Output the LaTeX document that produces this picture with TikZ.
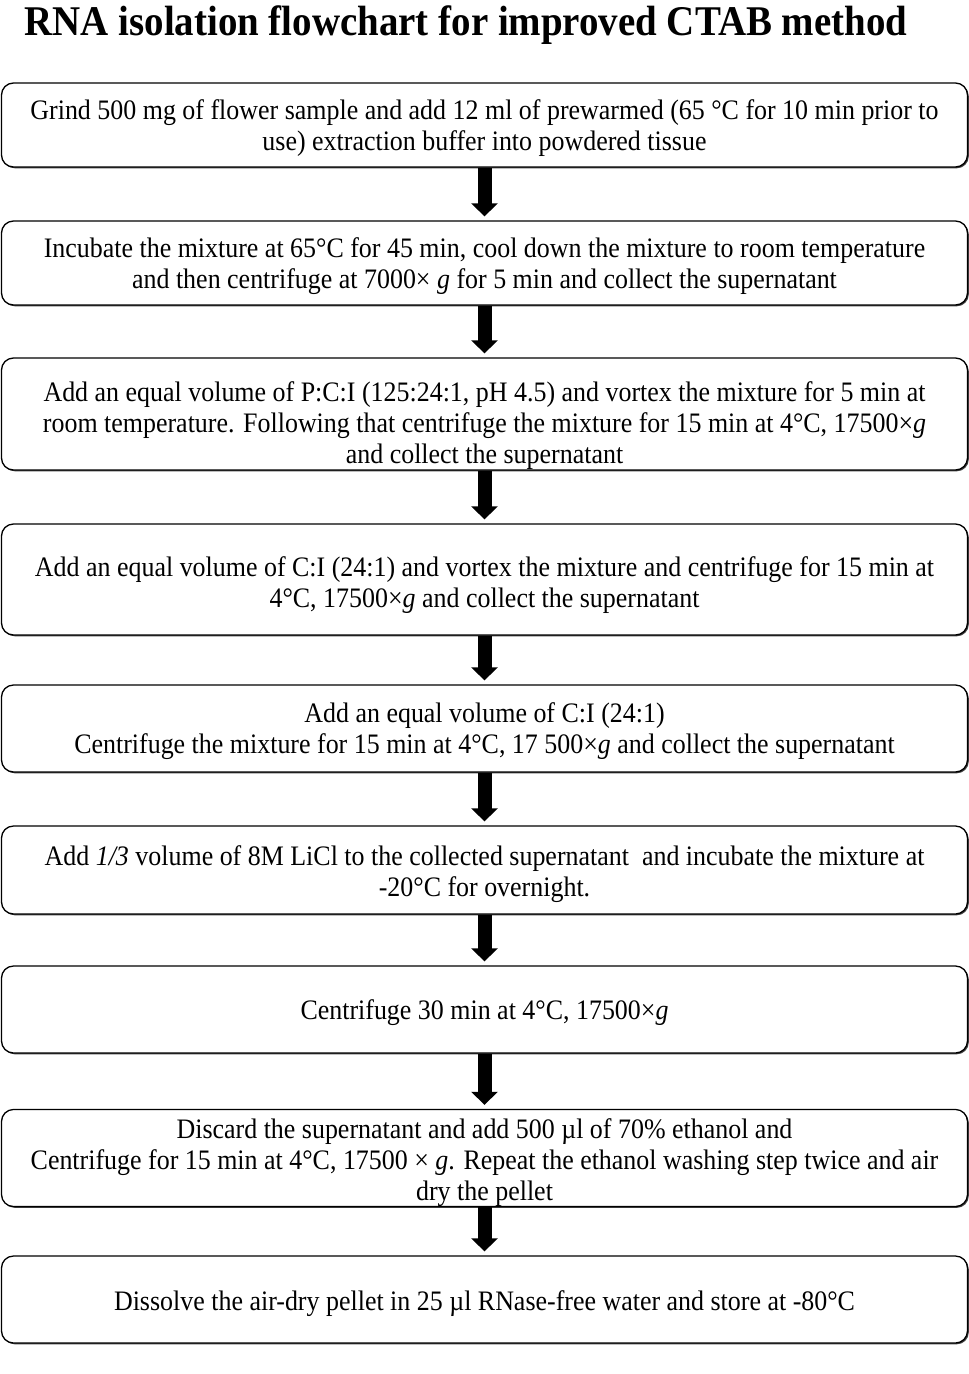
\documentclass[tikz,border=0pt]{standalone}
\usepackage{fontspec}
\setmainfont{Liberation Serif}[FakeStretch=0.92]
\usetikzlibrary{arrows.meta,shadows}
\newcommand{\myTop}[1][26pt]{\rule{0pt}{#1}}
\newcommand{\myBot}{\rule[-6pt]{0pt}{6pt}}
\begin{document}
\begin{tikzpicture}[x=1pt,y=-1pt,
  box/.style={draw, line width=1.3pt, rounded corners=12pt, fill=white,
    minimum width=966pt, align=center, inner sep=0pt,
    font=\fontsize{28.2}{31}\selectfont,
    drop shadow={shadow xshift=1.3pt, shadow yshift=-1.3pt, fill=black!75, opacity=1}},
  flow/.style={line width=14pt, -{Triangle[width=26pt,length=13pt]}, shorten >=4pt}]
\useasboundingbox (0,0) rectangle (969,1374);
\node[font=\fontsize{42.3}{42}\bfseries\selectfont, anchor=base] (title) at (466,35) {RNA isolation flowchart for improved CTAB method};
\node[box, minimum height=84pt] (b1) at (484.5,125) {\myTop Grind 500 mg of flower sample and add 12 ml of prewarmed (65 °C for 10 min prior to\\ use) extraction buffer into powdered tissue\myBot};
\node[box, minimum height=84pt] (b2) at (484.5,263) {\myTop Incubate the mixture at 65°C for 45 min, cool down the mixture to room temperature\\ and then centrifuge at 7000× \textit{g} for 5 min and collect the supernatant\myBot};
\node[box, minimum height=112pt] (b3) at (484.5,414) {\myTop[42pt]Add an equal volume of P:C:I (125:24:1, pH 4.5) and vortex the mixture for 5 min at\\ room temperature. Following that centrifuge the mixture for 15 min at 4°C, 17500×\textit{g}\\ and collect the supernatant\myBot};
\node[box, minimum height=111pt] (b4) at (484.5,579.5) {\myTop[30pt]Add an equal volume of C:I (24:1) and vortex the mixture and centrifuge for 15 min at\\ 4°C, 17500×\textit{g} and collect the supernatant\myBot};
\node[box, minimum height=87pt] (b5) at (484.5,728.5) {\myTop Add an equal volume of C:I (24:1)\\ Centrifuge the mixture for 15 min at 4°C, 17 500×\textit{g} and collect the supernatant\myBot};
\node[box, minimum height=88pt] (b6) at (484.5,870) {\myTop[29pt]Add \textit{1/3} volume of 8M LiCl to the collected supernatant~ and incubate the mixture at\\ -20°C for overnight.\myBot};
\node[box, minimum height=87pt] (b7) at (484.5,1009.5) {\myTop Centrifuge 30 min at 4°C, 17500×\textit{g}\myBot};
\node[box, minimum height=94pt] (b8) at (484.5,1158) {\myTop[29pt]Discard the supernatant and add 500 µl of 70\% ethanol and\\ Centrifuge for 15 min at 4°C, 17500 × \textit{g}. Repeat the ethanol washing step twice and air\\ dry the pellet\myBot};
\node[box, minimum height=87pt] (b9) at (484.5,1299.5) {\myTop[29pt]Dissolve the air-dry pellet in 25 µl RNase-free water and store at -80°C\myBot};
\draw[flow] (b1.south) -- (b2.north);
\draw[flow] (b2.south) -- (b3.north);
\draw[flow] (b3.south) -- (b4.north);
\draw[flow] (b4.south) -- (b5.north);
\draw[flow] (b5.south) -- (b6.north);
\draw[flow] (b6.south) -- (b7.north);
\draw[flow] (b7.south) -- (b8.north);
\draw[flow] (b8.south) -- (b9.north);
\end{tikzpicture}
\end{document}
